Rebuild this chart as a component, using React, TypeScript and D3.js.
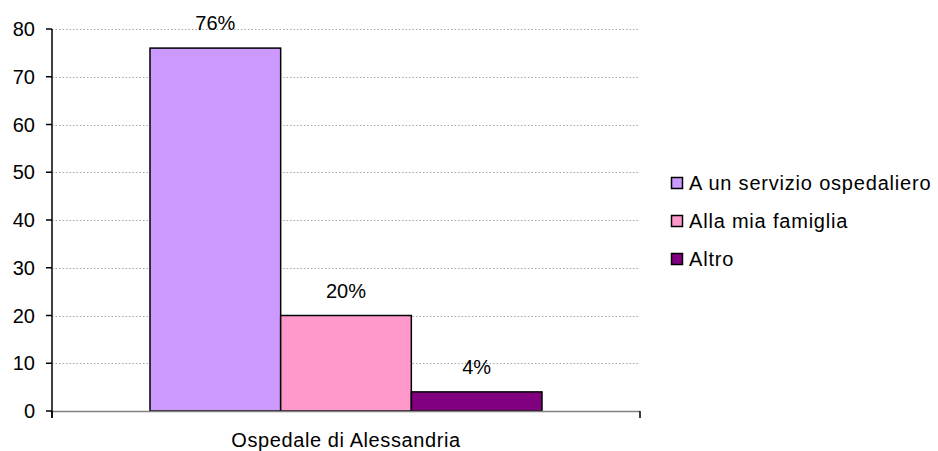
import React from "react";
import * as d3 from "d3";

const categories = ["Ospedale di Alessandria"];
const seriesNames = ["A un servizio ospedaliero", "Alla mia famiglia", "Altro"];
const seriesValues = [76, 20, 4];
const seriesLabels = ["76%", "20%", "4%"];
const seriesColors = ["#CC99FF", "#FF99CC", "#800080"];
const yTicks = [0, 10, 20, 30, 40, 50, 60, 70, 80];

const W = 938;
const H = 451;
const margin = { left: 52, right: 298, top: 29, bottom: 40 };
const FONT = "'Liberation Sans', Arial, Helvetica, sans-serif";

export default function App() {
  const x0 = margin.left;
  const x1 = W - margin.right;
  const yTop = margin.top;
  const yBottom = H - margin.bottom;

  const y = d3.scaleLinear().domain([0, 80]).range([yBottom, yTop]);
  const xCat = d3.scaleBand<string>().domain(categories).range([x0, x1]).paddingInner(0).paddingOuter(0);
  // bars fill the category with a 50% gap width, split evenly on both sides
  const groupWidth = xCat.bandwidth() / 1.5;
  const xSeries = d3
    .scaleBand<string>()
    .domain(seriesNames)
    .range([0, groupWidth])
    .padding(0);

  return (
    <div style={{ position: "fixed", left: 0, top: 0, width: W, height: H, overflow: "hidden" }}>
      <svg width={W} height={H} style={{ display: "block", background: "#fff" }} fontFamily={FONT}>
        {/* horizontal gridlines */}
        {yTicks.slice(1).map((t) => (
          <line
            key={"g" + t}
            x1={x0}
            x2={x1}
            y1={Math.round(y(t)) + 0.5}
            y2={Math.round(y(t)) + 0.5}
            stroke="#a8a8a8"
            strokeWidth={1}
            strokeDasharray="1.5,2"
          />
        ))}

        {/* bars */}
        {categories.map((c) => {
          const gx = (xCat(c) ?? 0) + (xCat.bandwidth() - groupWidth) / 2;
          return (
            <g key={c}>
              {seriesNames.map((s, i) => {
                const bx = gx + (xSeries(s) ?? 0);
                const by = y(seriesValues[i]);
                return (
                  <g key={s}>
                    <rect
                      x={bx}
                      y={by}
                      width={xSeries.bandwidth()}
                      height={yBottom - by}
                      fill={seriesColors[i]}
                      stroke="#000"
                      strokeWidth={1.5}
                    />
                    <text
                      x={bx + xSeries.bandwidth() / 2}
                      y={by - 18}
                      textAnchor="middle"
                      fontSize={20}
                      fill="#000"
                    >
                      {seriesLabels[i]}
                    </text>
                  </g>
                );
              })}
            </g>
          );
        })}

        {/* x axis */}
        <line x1={x0} x2={x1} y1={yBottom + 0.5} y2={yBottom + 0.5} stroke="#808080" strokeWidth={1.5} />
        {[x0, x1].map((tx, i) => (
          <line key={"xt" + i} x1={tx} x2={tx} y1={yBottom} y2={yBottom + 7} stroke="#000" strokeWidth={1.5} />
        ))}
        {categories.map((c) => (
          <text
            key={"cl" + c}
            x={(xCat(c) ?? 0) + xCat.bandwidth() / 2}
            y={yBottom + 36}
            textAnchor="middle"
            fontSize={20}
            letterSpacing={0.6}
            fill="#000"
          >
            {c}
          </text>
        ))}

        {/* y axis */}
        <line x1={x0} x2={x0} y1={yTop} y2={yBottom + 7} stroke="#000" strokeWidth={1.5} />
        {yTicks.map((t) => (
          <g key={"yt" + t}>
            <line x1={x0 - 6} x2={x0} y1={y(t)} y2={y(t)} stroke="#000" strokeWidth={1.5} />
            <text x={35} y={y(t)} dy="0.36em" textAnchor="end" fontSize={20} fill="#000">
              {t}
            </text>
          </g>
        ))}

        {/* legend */}
        {seriesNames.map((s, i) => {
          const cy = 183 + i * 38;
          return (
            <g key={"lg" + s}>
              <rect x={671.5} y={cy - 5.5} width={11} height={11} fill={seriesColors[i]} stroke="#000" strokeWidth={1.5} />
              <text x={689} y={cy} dy="0.36em" fontSize={20} letterSpacing={0.8} fill="#000">
                {s}
              </text>
            </g>
          );
        })}
      </svg>
    </div>
  );
}
